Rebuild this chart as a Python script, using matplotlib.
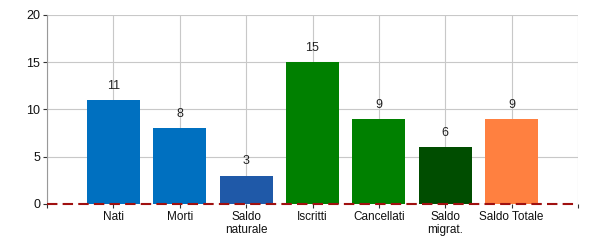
import matplotlib
matplotlib.use("Agg")
import matplotlib.pyplot as plt

categories = ["Nati", "Morti", "Saldo\nnaturale", "Iscritti", "Cancellati",
              "Saldo\nmigrat.", "Saldo Totale"]
values = [11, 8, 3, 15, 9, 6, 9]
colors = ["#0070C0", "#0070C0", "#1F59A8", "#008000", "#008000",
          "#004D00", "#FF8040"]
y_ticks = [0, 5, 10, 15, 20]


def main():
    plt.rcParams["font.family"] = ["Liberation Sans", "DejaVu Sans"]
    fig = plt.figure(figsize=(6, 2.5), dpi=100)
    ax = fig.add_axes([47 / 600, 1 - 204 / 250, 531 / 600, 189 / 250])

    pos = list(range(1, len(categories) + 1))
    ax.bar(pos, values, width=0.8, color=colors, zorder=2)
    for x, v in zip(pos, values):
        ax.annotate(str(v), (x, v), xytext=(0, 6), textcoords="offset points",
                    ha="center", va="bottom", fontsize=9, color="#222222")

    ax.axhline(0, color="#a01010", linestyle=(0, (5, 2.5)), linewidth=1.5,
               zorder=3, clip_on=False)

    ax.set_xlim(0, len(categories) + 1)
    ax.set_ylim(0, 20)
    ax.set_xticks([0] + pos + [len(categories) + 1])
    ax.set_xticklabels([""] + categories + [""], fontsize=8.5, color="#111111",
                       linespacing=1.15)
    ax.set_yticks(y_ticks)
    ax.set_yticklabels([str(t) for t in y_ticks], fontsize=9, color="#111111")
    ax.tick_params(length=3, width=0.8, color="#333333", pad=2)
    ax.grid(True, color="#c8c8c8", linewidth=0.8, zorder=0)
    ax.set_axisbelow(True)
    for side in ["top", "right"]:
        ax.spines[side].set_visible(False)
    ax.spines["left"].set_color("#999999")
    ax.spines["bottom"].set_visible(False)

    fig.savefig("out.png", dpi=100)


if __name__ == "__main__":
    main()
